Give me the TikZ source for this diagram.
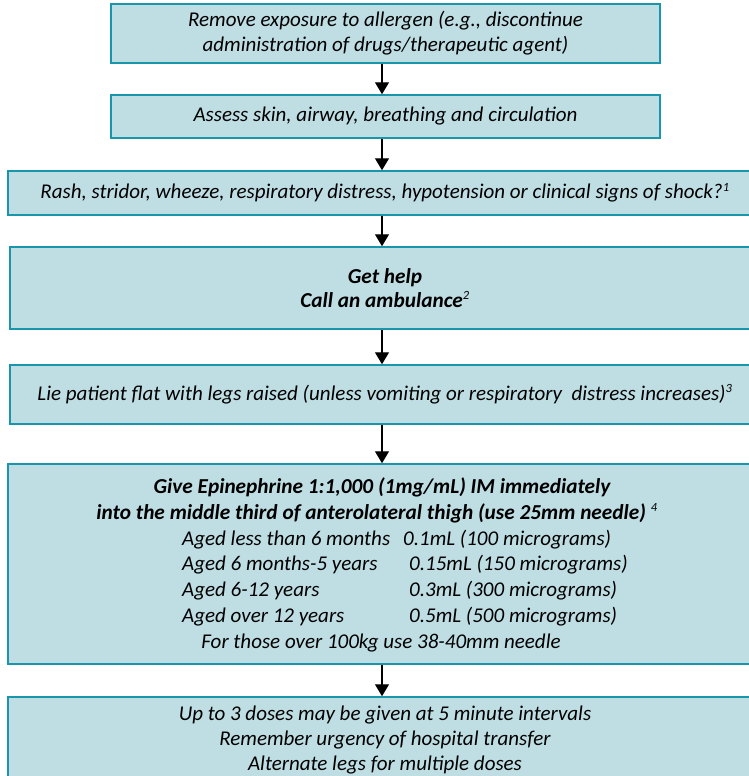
\documentclass[tikz,border=0pt]{standalone}
\usepackage{fontspec}
\setmainfont{Carlito}
\usetikzlibrary{arrows.meta}
\definecolor{boxfill}{RGB}{190,222,228}
\definecolor{boxline}{RGB}{25,150,172}
\newcommand{\fnmark}[1]{\textsuperscript{\fontsize{12.5}{12.5}\selectfont #1}}
\begin{document}
\begin{tikzpicture}[x=1pt,y=-1pt,
  stepbox/.style={draw=boxline, fill=boxfill, line width=1.5pt, inner sep=0pt, align=center,
    font=\fontsize{21}{25}\selectfont\itshape},
  txt/.style={inner sep=0pt, font=\fontsize{21}{25}\selectfont\itshape, text height=14pt, text depth=4pt},
  btxt/.style={txt, font=\fontsize{21.3}{25}\selectfont\bfseries\itshape},
  flow/.style={line width=1.3pt, -{Triangle[width=14pt,length=12pt]}}]
\useasboundingbox (0,0) rectangle (749,776);
\clip (0,0) rectangle (749,776);
\coordinate (ax) at (382,0);
\node[stepbox, minimum width=549pt, minimum height=59pt] (b1) at (385.5,33.5)
  {Remove exposure to allergen (e.g., discontinue\\administration of drugs/therapeutic agent)};
\node[stepbox, minimum width=549pt, minimum height=43pt] (b2) at (385.5,116.5)
  {Assess skin, airway, breathing and circulation};
\node[stepbox, minimum width=754pt, minimum height=44pt] (b3) at (385,193)
  {Rash, stridor, wheeze, respiratory distress, hypotension or clinical signs of shock?\fnmark{1}};
\node[stepbox, minimum width=750pt, minimum height=82pt, font=\fontsize{21.3}{24}\selectfont\bfseries\itshape] (b4) at (385,288)
  {Get help\\Call an ambulance\fnmark{\mdseries 2}};
\node[stepbox, minimum width=750pt, minimum height=59pt] (b5) at (385,394.5)
  {Lie patient flat with legs raised (unless vomiting or respiratory\ \ distress increases)\fnmark{3}};
\node[stepbox, minimum width=754pt, minimum height=200pt] (b6) at (385,564) {};
\node[stepbox, minimum width=754pt, minimum height=86pt] (b7) at (385,740)
  {Up to 3 doses may be given at 5 minute intervals\\Remember urgency of hospital transfer\\Alternate legs for multiple doses};
% box 6 contents
\node[btxt] (e1) at (382,488) {Give Epinephrine 1:1,000 (1mg/mL) IM immediately};
\node[btxt] (e2) at (377,514) {into the middle third of anterolateral thigh (use 25mm needle) \fnmark{\mdseries 4}};
\node[txt, anchor=west] (r1a) at (182,540) {Aged less than 6 months};
\node[txt, anchor=west] (r1b) at (403,540) {0.1mL (100 micrograms)};
\node[txt, anchor=west] (r2a) at (182,565) {Aged 6 months-5 years};
\node[txt, anchor=west] (r2b) at (409,565) {0.15mL (150 micrograms)};
\node[txt, anchor=west] (r3a) at (182,591) {Aged 6-12 years};
\node[txt, anchor=west] (r3b) at (409,591) {0.3mL (300 micrograms)};
\node[txt, anchor=west] (r4a) at (182,617) {Aged over 12 years};
\node[txt, anchor=west] (r4b) at (409,617) {0.5mL (500 micrograms)};
\node[txt] (e3) at (381,643) {For those over 100kg use 38-40mm needle};
% connectors
\draw[flow] (b1.south -| ax) -- (b2.north -| ax);
\draw[flow] (b2.south -| ax) -- (b3.north -| ax);
\draw[flow] (b3.south -| ax) -- (b4.north -| ax);
\draw[flow] (b4.south -| ax) -- (b5.north -| ax);
\draw[flow] (b5.south -| ax) -- (b6.north -| ax);
\draw[flow] (b6.south -| ax) -- (b7.north -| ax);
\end{tikzpicture}
\end{document}
